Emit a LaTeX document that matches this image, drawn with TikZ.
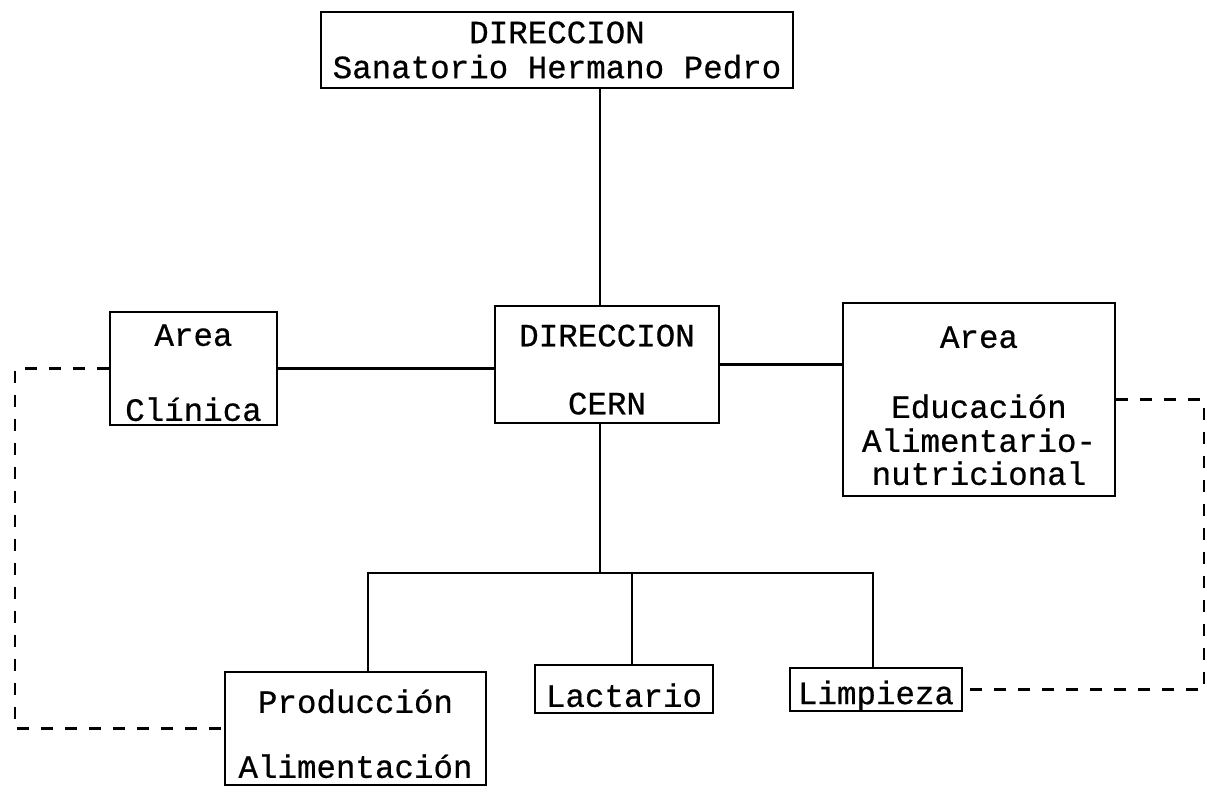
\documentclass[tikz,border=0pt]{standalone}
\usepackage{fontspec}
\newfontfamily\typewriter[FakeBold=0.6]{Liberation Mono}
\newcommand{\lift}[1]{\rule{0pt}{#1}}
\begin{document}
\begin{tikzpicture}[x=0.5pt, y=-0.5pt,
    box/.style={draw, line width=1.4pt, align=center, inner sep=0pt, font=\typewriter\fontsize{16.25}{16.5}\selectfont},
    link/.style={line width=1.2pt},
    dashed link/.style={line width=1.2pt, dash pattern=on 6pt off 6pt}]
    \useasboundingbox (0,0) rectangle (1207,793);
    \node[box, minimum width=236pt, minimum height=38pt] (dir) at (557,50) {DIRECCION\\[1pt]Sanatorio Hermano Pedro};
    \node[box, minimum width=112pt, minimum height=58.5pt] (cern) at (607,364.5) {\lift{16pt}DIRECCION\\[17.5pt]CERN};
    \node[box, minimum width=83.5pt, minimum height=56.5pt] (clin) at (193.5,368.5) {\lift{15pt}Area\\[21pt]Clínica};
    \node[box, minimum width=136pt, minimum height=96.5pt] (educ) at (979,399.5) {\lift{17pt}Area\\[18.5pt]Educación\\[0.5pt]Alimentario-\\nutricional};
    \node[box, minimum width=130.5pt, minimum height=56.5pt] (prod) at (355.5,728.5) {\lift{17pt}Producción\\[16pt]Alimentación};
    \node[box, minimum width=89pt, minimum height=24pt] (lact) at (624,689) {\lift{18pt}Lactario};
    \node[box, minimum width=86pt, minimum height=21.5pt] (limp) at (876,689.5) {\lift{18pt}Limpieza};
    \coordinate (spine) at (600,0);
    \coordinate (busL) at (368,573);
    \coordinate (busM) at (632,573);
    \coordinate (busR) at (873,573);
    \coordinate (leftx) at (15,0);
    \coordinate (rightx) at (1204,0);
    \draw[link] (dir.south -| spine) -- (cern.north -| spine);
    \draw[link] (clin.east) -- (clin.east -| cern.west);
    \draw[link] (cern.east) -- (cern.east -| educ.west);
    \draw[link] (cern.south -| spine) -- (spine |- busL);
    \draw[link] (prod.north -| busL) -- (busL) -- (busR) -- (limp.north -| busR);
    \draw[link] (busM) -- (lact.north -| busM);
    \draw[dashed link] (clin.west) -- (clin.west -| leftx) |- (prod.west);
    \draw[dashed link] (educ.east) -- (educ.east -| rightx) |- (limp.east);
\end{tikzpicture}
\end{document}
